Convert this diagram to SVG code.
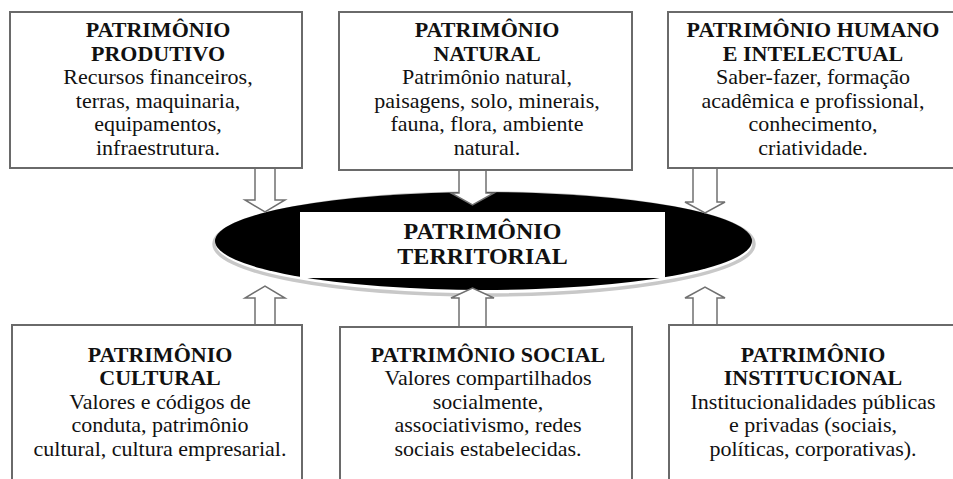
<svg xmlns="http://www.w3.org/2000/svg" width="953" height="479" viewBox="0 0 953 479">
<style>
.box{fill:#fff;stroke:#6a6a6a;stroke-width:2}
.h{font-family:"Liberation Serif","Times New Roman",serif;font-weight:bold;font-size:22px;fill:#111;text-anchor:middle}
.b{font-family:"Liberation Serif","Times New Roman",serif;font-size:22px;fill:#111;text-anchor:middle}
.ht{font-family:"Liberation Serif","Times New Roman",serif;font-weight:bold;font-size:24px;fill:#111;text-anchor:middle}
.arr{fill:#fff;stroke:#707070;stroke-width:1.5;stroke-linejoin:miter}
</style>
<rect width="953" height="479" fill="#fff"/>

<g id="territorial">
<ellipse cx="484" cy="244" rx="270" ry="51" fill="none" stroke="#c8c8c8" stroke-width="3.5"/>
<ellipse cx="483.5" cy="241" rx="268.5" ry="49" fill="#000"/>
<rect x="300" y="212" width="365" height="66" fill="#fff"/>
<text class="ht" x="482.5" y="239">PATRIMÔNIO</text>
<text class="ht" x="482.5" y="264">TERRITORIAL</text>
</g>

<g id="produtivo">
<rect class="box" x="10" y="12" width="292" height="156"/>
<text class="h" x="158" y="37">PATRIMÔNIO</text>
<text class="h" x="158" y="60.5">PRODUTIVO</text>
<text class="b" x="158" y="84">Recursos financeiros,</text>
<text class="b" x="158" y="107.5">terras, maquinaria,</text>
<text class="b" x="158" y="131">equipamentos,</text>
<text class="b" x="158" y="154.5">infraestrutura.</text>
</g>

<g id="natural">
<rect class="box" x="339" y="12" width="293" height="158"/>
<text class="h" x="487" y="37">PATRIMÔNIO</text>
<text class="h" x="487" y="60.5">NATURAL</text>
<text class="b" x="487" y="84">Patrimônio natural,</text>
<text class="b" x="487" y="107.5">paisagens, solo, minerais,</text>
<text class="b" x="487" y="131">fauna, flora, ambiente</text>
<text class="b" x="487" y="154.5">natural.</text>
</g>

<g id="humano">
<rect class="box" x="668" y="12" width="300" height="156"/>
<text class="h" x="813" y="37">PATRIMÔNIO HUMANO</text>
<text class="h" x="813" y="60.5">E INTELECTUAL</text>
<text class="b" x="813" y="84">Saber-fazer, formação</text>
<text class="b" x="813" y="107.5">acadêmica e profissional,</text>
<text class="b" x="813" y="131">conhecimento,</text>
<text class="b" x="813" y="154.5">criatividade.</text>
</g>

<g id="cultural">
<rect class="box" x="12" y="325" width="290" height="170"/>
<text class="h" x="160" y="362">PATRIMÔNIO</text>
<text class="h" x="160" y="385">CULTURAL</text>
<text class="b" x="160" y="408.5">Valores e códigos de</text>
<text class="b" x="160" y="432">conduta, patrimônio</text>
<text class="b" x="160" y="456">cultural, cultura empresarial.</text>
</g>

<g id="social">
<rect class="box" x="340" y="327" width="292" height="170"/>
<text class="h" x="488" y="362">PATRIMÔNIO SOCIAL</text>
<text class="b" x="488" y="385">Valores compartilhados</text>
<text class="b" x="488" y="408.5">socialmente,</text>
<text class="b" x="488" y="432">associativismo, redes</text>
<text class="b" x="488" y="456">sociais estabelecidas.</text>
</g>

<g id="institucional">
<rect class="box" x="669" y="325" width="300" height="170"/>
<text class="h" x="813" y="362">PATRIMÔNIO</text>
<text class="h" x="813" y="385">INSTITUCIONAL</text>
<text class="b" x="813" y="408.5">Institucionalidades públicas</text>
<text class="b" x="813" y="432">e privadas (sociais,</text>
<text class="b" x="813" y="456">políticas, corporativas).</text>
</g>

<g id="connectors">
<path class="arr" d="M255,169 V200 H245 L265,212 L285,200 H275 V169"/>
<path class="arr" d="M459,171 V193 H451 L472.5,205 L494,193 H486 V171"/>
<path class="arr" d="M693,169 V202 H685 L705,213 L725,202 H717 V169"/>
<path class="arr" d="M255,324 V298 H245 L265,286 L285,298 H275 V324"/>
<path class="arr" d="M459,326 V298 H451 L472.5,288 L494,298 H486 V326"/>
<path class="arr" d="M693,324 V298 H685 L705,287 L725,298 H717 V324"/>
</g>
</svg>
